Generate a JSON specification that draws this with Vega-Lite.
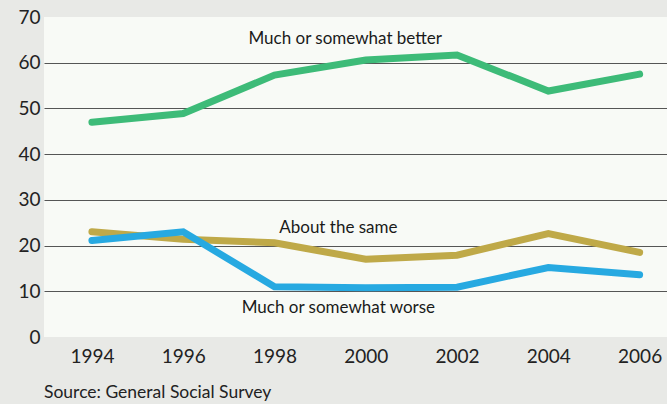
{
  "$schema": "https://vega.github.io/schema/vega-lite/v6.json",
  "width": 623,
  "height": 320,
  "autosize": {"type": "none"},
  "padding": {"left": 44, "top": 17, "right": 0, "bottom": 67},
  "background": "#e8e9e6",
  "config": {
    "view": {"fill": "#f8faf6", "stroke": null},
    "font": "Lato"
  },
  "title": {
    "text": "Source: General Social Survey",
    "orient": "bottom",
    "anchor": "start",
    "frame": "group",
    "fontSize": 17.5,
    "fontWeight": "normal",
    "color": "#222222",
    "offset": 18
  },
  "datasets": {
    "series": [
      {"year": 1994, "value": 47.0, "group": "better"},
      {"year": 1996, "value": 48.9, "group": "better"},
      {"year": 1998, "value": 57.3, "group": "better"},
      {"year": 2000, "value": 60.6, "group": "better"},
      {"year": 2002, "value": 61.7, "group": "better"},
      {"year": 2004, "value": 53.8, "group": "better"},
      {"year": 2006, "value": 57.5, "group": "better"},
      {"year": 1994, "value": 23.0, "group": "same"},
      {"year": 1996, "value": 21.4, "group": "same"},
      {"year": 1998, "value": 20.6, "group": "same"},
      {"year": 2000, "value": 17.0, "group": "same"},
      {"year": 2002, "value": 17.9, "group": "same"},
      {"year": 2004, "value": 22.6, "group": "same"},
      {"year": 2006, "value": 18.5, "group": "same"},
      {"year": 1994, "value": 21.1, "group": "worse"},
      {"year": 1996, "value": 23.0, "group": "worse"},
      {"year": 1998, "value": 11.0, "group": "worse"},
      {"year": 2000, "value": 10.8, "group": "worse"},
      {"year": 2002, "value": 10.9, "group": "worse"},
      {"year": 2004, "value": 15.2, "group": "worse"},
      {"year": 2006, "value": 13.6, "group": "worse"}
    ],
    "labels": [
      {"year": 1999.55, "value": 65.2, "text": "Much or somewhat better"},
      {"year": 1999.4, "value": 23.9, "text": "About the same"},
      {"year": 1999.4, "value": 6.4, "text": "Much or somewhat worse"}
    ]
  },
  "layer": [
    {
      "data": {"name": "series"},
      "mark": {"type": "line", "strokeWidth": 7, "strokeCap": "round", "strokeJoin": "miter", "clip": true},
      "encoding": {
        "x": {
          "field": "year",
          "type": "quantitative",
          "scale": {"domain": [1992.95, 2006.6], "nice": false, "zero": false},
          "axis": {
            "values": [1994, 1996, 1998, 2000, 2002, 2004, 2006],
            "format": "d",
            "title": null,
            "grid": false,
            "ticks": false,
            "domain": false,
            "labelFontSize": 19,
            "labelColor": "#222222",
            "labelPadding": 10
          }
        },
        "y": {
          "field": "value",
          "type": "quantitative",
          "scale": {"domain": [0, 70], "nice": false},
          "axis": {
            "values": [0, 10, 20, 30, 40, 50, 60, 70],
            "title": null,
            "grid": true,
            "gridColor": {
              "condition": {"test": "datum.value === 0 || datum.value === 70", "value": "transparent"},
              "value": "#555555"
            },
            "gridWidth": 1,
            "gridOpacity": 1,
            "ticks": false,
            "domain": false,
            "labelFontSize": 19,
            "labelColor": "#222222",
            "labelPadding": 4
          }
        },
        "color": {
          "field": "group",
          "type": "nominal",
          "scale": {"domain": ["better", "same", "worse"], "range": ["#3dbb78", "#bfa948", "#27a9e1"]},
          "legend": null
        },
        "detail": {"field": "group"}
      }
    },
    {
      "data": {"name": "labels"},
      "mark": {"type": "text", "fontSize": 17, "color": "#1a1a1a", "align": "center", "baseline": "middle"},
      "encoding": {
        "x": {"field": "year", "type": "quantitative"},
        "y": {"field": "value", "type": "quantitative"},
        "text": {"field": "text"}
      }
    }
  ]
}
